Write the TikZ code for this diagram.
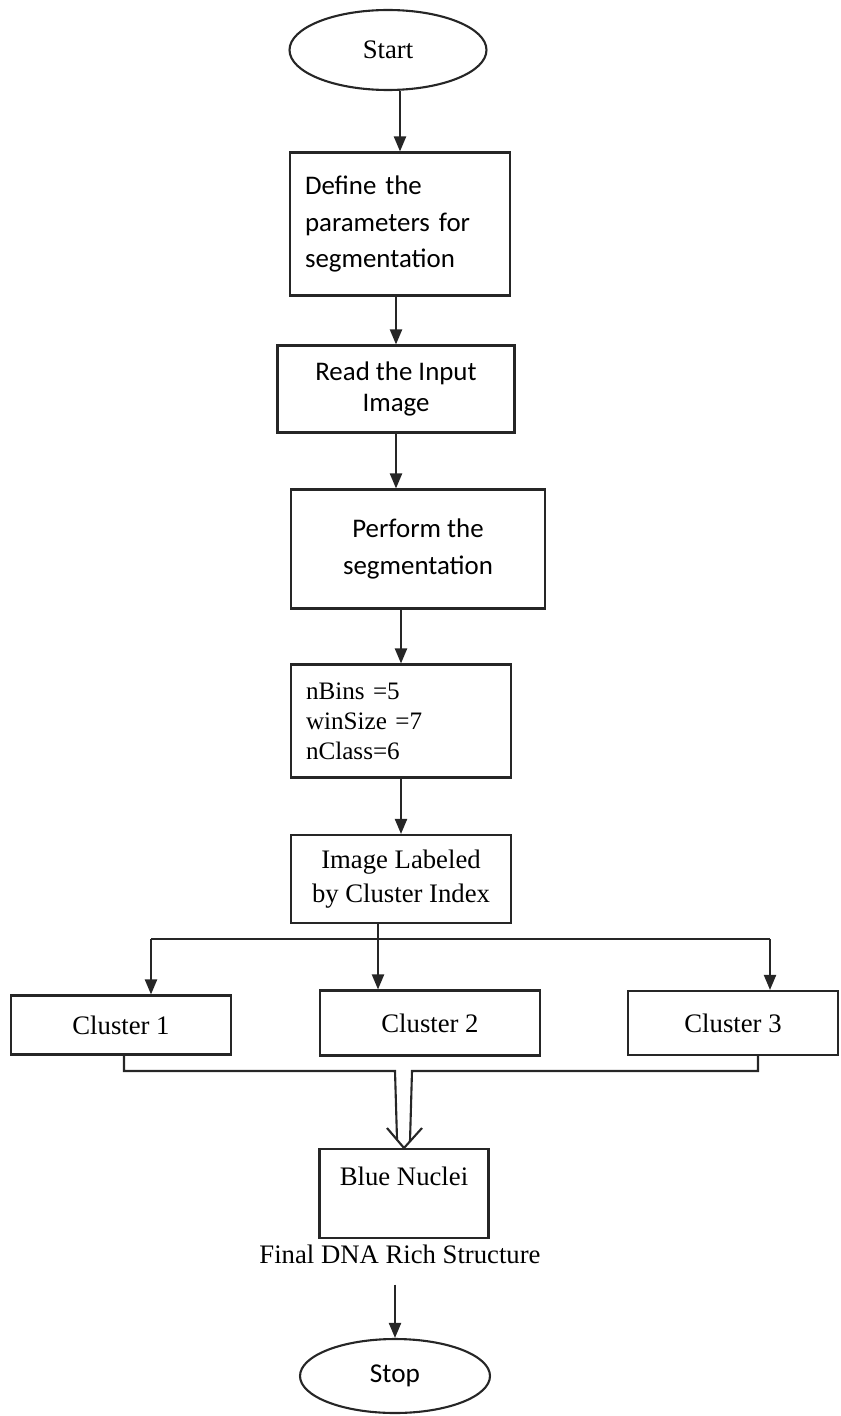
\documentclass[tikz,border=0pt]{standalone}
\usepackage{fontspec}
\setmainfont{Liberation Serif}
\newfontfamily\calibri{Carlito}
\usetikzlibrary{arrows.meta, shapes.geometric}

\begin{document}
\begin{tikzpicture}[x=0.02cm, y=-0.02cm,
      box/.style={draw=black!85, line width=1.2pt, align=center, inner sep=2pt},
      term/.style={draw=black!85, line width=1.2pt, ellipse, inner sep=0pt},
      line/.style={draw=black!85, line width=1.2pt},
      arr/.style={line, -{Triangle[length=0.3cm, width=0.24cm]}},
      sans/.style={font=\calibri\fontsize{15.3}{21}\selectfont},
      serif/.style={font=\fontsize{15.2}{19}\selectfont}
    ]
    \useasboundingbox (0,0) rectangle (840,1416);

    \node[term, serif, minimum width=3.94cm, minimum height=1.6cm] (start) at (388,50) {Start};
    \node[box, sans, minimum width=4.4cm, minimum height=2.86cm, text width=3.8cm, align=left] (def) at (400,224) {Define the\\ parameters for\\ segmentation};
    \node[box, sans, font=\calibri\fontsize{15.3}{18}\selectfont, minimum width=4.74cm, minimum height=1.74cm] (read) at (396,389) {Read the Input\\ Image};
    \node[box, sans, minimum width=5.08cm, minimum height=2.38cm] (perf) at (418,549) {Perform the\\ segmentation};
    \node[box, serif, font=\fontsize{14.3}{17}\selectfont, minimum width=4.4cm, minimum height=2.26cm, text width=3.8cm, align=left] (param) at (401,721) {nBins =5\\ winSize =7\\ nClass=6};
    \node[box, serif, minimum width=4.4cm, minimum height=1.76cm] (label) at (401,879) {Image Labeled\\ by Cluster Index};

    \node[box, serif, minimum width=4.4cm, minimum height=1.18cm] (c1) at (121,1025) {Cluster 1};
    \node[box, serif, minimum width=4.4cm, minimum height=1.3cm] (c2) at (430,1023) {Cluster 2};
    \node[box, serif, minimum width=4.2cm, minimum height=1.28cm] (c3) at (733,1023) {Cluster 3};

    \node[box, serif, anchor=north, minimum width=3.38cm, text height=0.62cm, text depth=0.96cm, inner sep=0.1cm] (blue) at (404,1148) {Blue Nuclei};
    \node[serif] (final) at (400,1254) {Final DNA Rich Structure};
    \node[term, sans, font=\calibri\fontsize{15.5}{17}\selectfont, minimum width=3.8cm, minimum height=1.48cm] (stop) at (395,1376) {Stop};

    % main column
    \draw[arr] (start.south -| def.north) -- (def.north);
    \draw[arr] (def.south -| read.north) -- (read.north);
    \draw[arr] (read.south) -- (read.south |- perf.north);
    \draw[arr] (perf.south -| param.north) -- (param.north);
    \draw[arr] (param.south) -- (label.north);

    % split into clusters
    \coordinate (brL) at (151,939);
    \coordinate (brR) at (770,939);
    \draw[line] (brL) -- (brR);
    \draw[arr] (brL) -- (brL |- c1.north);
    \draw[arr] (brR) -- (brR |- c3.north);
    \draw[arr] ([xshift=-0.46cm]label.south) -- ([xshift=-0.46cm]label.south |- c2.north);

    % merge into blue nuclei
    \coordinate (mL) at (395,1071);
    \coordinate (mLb) at (397,1139);
    \coordinate (mR) at (412,1071);
    \coordinate (mRb) at (410,1141);
    \coordinate (wingL) at (387,1128);
    \coordinate (wingR) at (422,1128);
    \draw[line] ([xshift=0.06cm]c1.south) |- (mL) -- (mLb);
    \draw[line] ([xshift=0.5cm]c3.south) |- (mR) -- (mRb);
    \draw[line] (wingL) -- (blue.north) -- (wingR);

    \draw[arr, shorten <=0.3cm] (final.south -| stop.north) -- (stop.north);
  \end{tikzpicture}
\end{document}
